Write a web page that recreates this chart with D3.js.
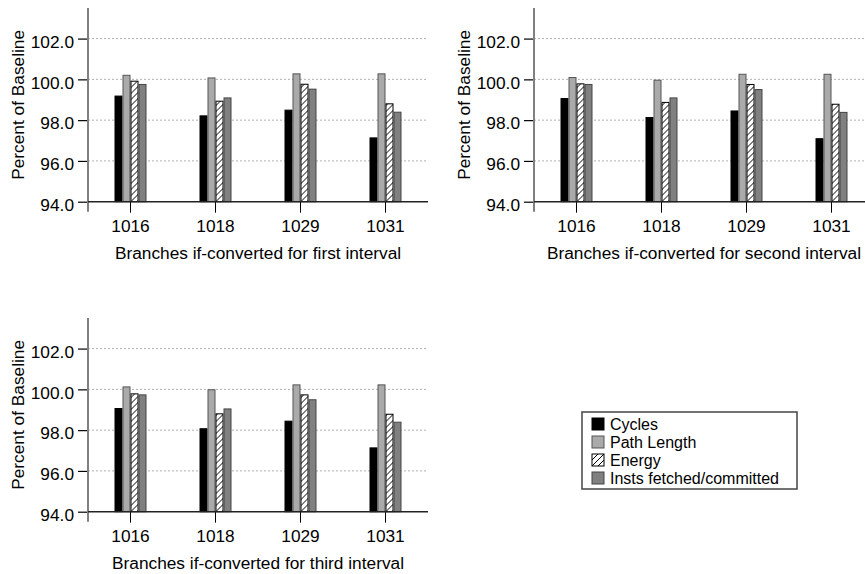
<!DOCTYPE html>
<html>
<head>
<meta charset="utf-8">
<script src="https://cdn.jsdelivr.net/npm/d3@7"></script>
<style>
  body { margin: 0; background: #fff; }
  svg text { font-family: 'Liberation Sans', Arial, sans-serif; fill: #000; }
</style>
</head>
<body>
<div id="chart"></div>
<script>
// Branch numbers on the x axis of every panel
const categories = ['1016', '1018', '1029', '1031'];

// The four measured series, same order in every panel
const seriesNames = ['Cycles', 'Path Length', 'Energy', 'Insts fetched/committed'];

// y axis ticks
const yTicks = [94, 96, 98, 100, 102];

// Values per interval, one row per series
const firstCycles = [99.18, 98.21, 98.49, 97.13];
const firstPathLength = [100.2, 100.07, 100.27, 100.27];
const firstEnergy = [99.91, 98.93, 99.76, 98.8];
const firstInsts = [99.75, 99.09, 99.52, 98.39];

const secondCycles = [99.06, 98.13, 98.45, 97.09];
const secondPathLength = [100.09, 99.96, 100.25, 100.25];
const secondEnergy = [99.78, 98.87, 99.75, 98.78];
const secondInsts = [99.75, 99.09, 99.5, 98.38];

const thirdCycles = [99.06, 98.07, 98.44, 97.13];
const thirdPathLength = [100.12, 99.98, 100.22, 100.22];
const thirdEnergy = [99.78, 98.8, 99.73, 98.78];
const thirdInsts = [99.73, 99.04, 99.49, 98.39];

const panelTitles = [
  'Branches if-converted for first interval',
  'Branches if-converted for second interval',
  'Branches if-converted for third interval',
];

const panelData = [
  [firstCycles, firstPathLength, firstEnergy, firstInsts],
  [secondCycles, secondPathLength, secondEnergy, secondInsts],
  [thirdCycles, thirdPathLength, thirdEnergy, thirdInsts],
];

// where each panel's plot area sits
const panelPos = [
  { x: 88, y: 8 },
  { x: 534, y: 8 },
  { x: 88, y: 318 },
];

const plotW = 340;
const plotH = 193.7;
const barW = 8;
const fontSize = '17.3px';

const fills = ['#000000', '#aaaaaa', 'url(#hatch)', '#808080'];
const strokes = ['#000000', '#555555', '#000000', '#444444'];

const svg = d3
  .select('#chart')
  .append('svg')
  .attr('width', 865)
  .attr('height', 574);

// Diagonal hatch for the energy bars
const pattern = svg
  .append('defs')
  .append('pattern')
  .attr('id', 'hatch')
  .attr('patternUnits', 'userSpaceOnUse')
  .attr('width', 6)
  .attr('height', 6);
pattern.append('rect').attr('width', 6).attr('height', 6).attr('fill', '#fff');
pattern
  .append('path')
  .attr('d', 'M-1,7 L7,-1 M-1,1 L1,-1 M5,7 L7,5')
  .attr('stroke', '#000')
  .attr('stroke-width', 1);

const x0 = d3.scaleBand().domain(categories).range([0, plotW]).padding(0);
const x1 = d3
  .scaleBand()
  .domain(seriesNames)
  .range([0, barW * seriesNames.length])
  .padding(0);
const y = d3.scaleLinear().domain([94, 103.5]).range([plotH, 0]);

function drawPanel(p) {
  const g = svg
    .append('g')
    .attr('transform', 'translate(' + panelPos[p].x + ',' + panelPos[p].y + ')');

  // dotted grid lines
  g.selectAll('line.grid')
    .data(yTicks.filter((t) => t > 94))
    .enter()
    .append('line')
    .attr('class', 'grid')
    .attr('x1', 0)
    .attr('x2', plotW)
    .attr('y1', (d) => y(d))
    .attr('y2', (d) => y(d))
    .attr('stroke', '#b0b0b0')
    .attr('stroke-width', 1)
    .attr('stroke-dasharray', '2,2');

  // bars, grouped by branch
  const offset = (x0.bandwidth() - barW * seriesNames.length) / 2;
  const groups = g
    .selectAll('g.group')
    .data(categories)
    .enter()
    .append('g')
    .attr('class', 'group')
    .attr('transform', (d) => 'translate(' + (x0(d) + offset) + ',0)');

  groups
    .selectAll('rect')
    .data((d, i) =>
      seriesNames.map((s, j) => ({ s: s, j: j, v: panelData[p][j][i] }))
    )
    .enter()
    .append('rect')
    .attr('x', (d) => x1(d.s) + 0.5)
    .attr('y', (d) => y(d.v))
    .attr('width', barW - 1)
    .attr('height', (d) => y(94) - y(d.v))
    .attr('fill', (d) => fills[d.j])
    .attr('stroke', (d) => strokes[d.j])
    .attr('stroke-width', 1);

  // y axis
  const yAxis = d3
    .axisLeft(y)
    .tickValues(yTicks)
    .tickSize(10)
    .tickPadding(4)
    .tickFormat(d3.format('.1f'));
  const ya = g.append('g').call(yAxis);
  ya.select('.domain').remove();
  ya.selectAll('.tick line').attr('stroke', '#000').attr('stroke-width', 1.2);
  ya.selectAll('.tick text')
    .attr('font-size', fontSize)
    .attr('dy', '0.5em')
    .attr('fill', '#000');
  g.append('line')
    .attr('x1', 0)
    .attr('x2', 0)
    .attr('y1', 0)
    .attr('y2', plotH + 10)
    .attr('stroke', '#808080')
    .attr('stroke-width', 2);

  // x axis along the 94.0 line
  const xAxis = d3.axisBottom(x0).tickSize(11).tickPadding(7);
  const xa = g.append('g').attr('transform', 'translate(0,' + plotH + ')').call(xAxis);
  xa.select('.domain').remove();
  xa.selectAll('.tick line').attr('stroke', '#000').attr('stroke-width', 1);
  xa.selectAll('.tick text').attr('font-size', fontSize).attr('fill', '#000');
  g.append('line')
    .attr('x1', 0)
    .attr('x2', plotW)
    .attr('y1', plotH)
    .attr('y2', plotH)
    .attr('stroke', '#222')
    .attr('stroke-width', 1.5);

  // axis titles
  g.append('text')
    .attr('x', plotW / 2)
    .attr('y', plotH + 57)
    .attr('text-anchor', 'middle')
    .attr('font-size', fontSize)
    .text(panelTitles[p]);

  g.append('text')
    .attr('transform', 'translate(' + -64 + ',' + plotH / 2 + ') rotate(-90)')
    .attr('text-anchor', 'middle')
    .attr('font-size', fontSize)
    .text('Percent of Baseline');
}

for (let p = 0; p < panelData.length; p++) {
  drawPanel(p);
}

// Legend box in the empty corner
const legend = svg.append('g').attr('transform', 'translate(582,412)');
legend
  .append('rect')
  .attr('width', 215)
  .attr('height', 77)
  .attr('fill', '#fff')
  .attr('stroke', '#444')
  .attr('stroke-width', 1.5);

const items = legend
  .selectAll('g.item')
  .data(seriesNames)
  .enter()
  .append('g')
  .attr('class', 'item')
  .attr('transform', (d, i) => 'translate(10,' + (6 + i * 18) + ')');

items
  .append('rect')
  .attr('width', 12)
  .attr('height', 12)
  .attr('fill', (d, i) => fills[i])
  .attr('stroke', (d, i) => strokes[i])
  .attr('stroke-width', 1);

items
  .append('text')
  .attr('x', 18)
  .attr('y', 12)
  .attr('font-size', '16px')
  .text((d) => d);
</script>
</body>
</html>
